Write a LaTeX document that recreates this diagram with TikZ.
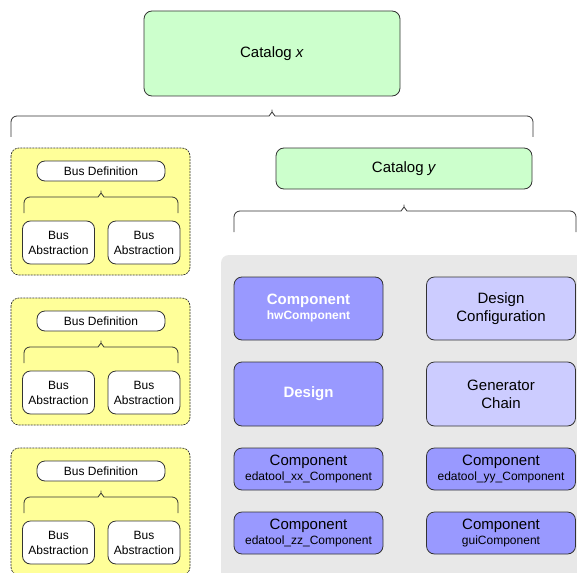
\documentclass[tikz,border=0pt]{standalone}
\usepackage{fontspec}
\setmainfont{Liberation Sans}
\definecolor{linec}{HTML}{333333}
\definecolor{greenc}{HTML}{CCFFCC}
\definecolor{yellowc}{HTML}{FFFF99}
\definecolor{compdark}{HTML}{9999FF}
\definecolor{complight}{HTML}{CCCCFF}
\definecolor{poolgray}{HTML}{E8E8E8}
% curly grouping brace: left x, right x, tip x, tip y, depth of the ends
\newcommand{\groupbrace}[5]{%
  \draw[bracel] (#1,#4+#5) |- (#3-9,#4+10)
    .. controls (#3-3,#4+10) and (#3,#4+6) .. (#3,#4)
    .. controls (#3,#4+6) and (#3+3,#4+10) .. (#3+9,#4+10)
    -| (#2,#4+#5);}
\begin{document}
\begin{tikzpicture}[x=1pt,y=-1pt,
  big/.style={font=\fontsize{15}{18}\selectfont},
  small/.style={font=\fontsize{12}{15}\selectfont},
  box/.style={draw=linec, line width=0.8pt, rounded corners=8pt, inner sep=0pt,
    align=center, big},
  catalog/.style={box, fill=greenc},
  compd/.style={box, fill=compdark},
  compl/.style={box, fill=complight},
  busbox/.style={box, fill=white, small},
  pool/.style={draw=linec, line width=0.7pt, dash pattern=on 2pt off 1pt,
    fill=yellowc, rounded corners=8pt},
  bracel/.style={draw=linec, line width=0.8pt, rounded corners=6pt},
  cw/.style={minimum width=149, minimum height=#1},
]
\useasboundingbox (0,0) rectangle (577,572);
\clip (0,0) rectangle (577,572);
\fill[white] (0,0) rectangle (577,572);

% top catalog
\node[catalog, minimum width=256, minimum height=85] (catx) at (272,53.5) {Catalog \textit{x}};
\groupbrace{11}{533}{272}{106}{31}

% bus definition pools
\foreach \i/\dy in {1/0, 2/150, 3/300} {
  \path[pool] (11,148+\dy) rectangle (190,275+\dy);
  \node[busbox, minimum width=128, minimum height=20] (busdef\i) at (101,171+\dy) {Bus Definition};
  \groupbrace{24}{178}{101}{187+\dy}{26}
  \node[busbox, minimum width=72, minimum height=43] (absa\i) at (58.5,242.5+\dy) {Bus\\Abstraction};
  \node[busbox, minimum width=72, minimum height=43] (absb\i) at (144,242.5+\dy) {Bus\\Abstraction};
}

% second catalog
\node[catalog, minimum width=256, minimum height=41] (caty) at (404,168.5) {Catalog \textit{y}};
\groupbrace{234}{576}{404}{201}{31}

% element pool of catalog y
\fill[poolgray, rounded corners=8pt] (221,255) rectangle (600,600);

\node[compd, cw=63, text=white, font=\bfseries\fontsize{15}{17}\selectfont] (hwcomp) at (308.5,308.5)
  {Component\\[-2pt]{\fontsize{12}{14}\selectfont hwComponent}};
\node[compl, cw=63] (desconf) at (501,308.5) {Design\\Configuration};
\node[compd, cw=64, text=white, font=\bfseries\fontsize{15}{18}\selectfont] (design) at (308.5,394) {Design};
\node[compl, cw=64] (genchain) at (501,394) {Generator\\Chain};
\node[compd, cw=42] (edaxx) at (308.5,469)
  {Component\\[-3pt]{\fontsize{12}{14}\selectfont edatool\_xx\_Component}};
\node[compd, cw=42] (edayy) at (501,469)
  {Component\\[-3pt]{\fontsize{12}{14}\selectfont edatool\_yy\_Component}};
\node[compd, cw=42] (edazz) at (308.5,533)
  {Component\\[-3pt]{\fontsize{12}{14}\selectfont edatool\_zz\_Component}};
\node[compd, cw=42] (gui) at (501,533)
  {Component\\[-3pt]{\fontsize{12}{14}\selectfont guiComponent}};
\end{tikzpicture}
\end{document}
